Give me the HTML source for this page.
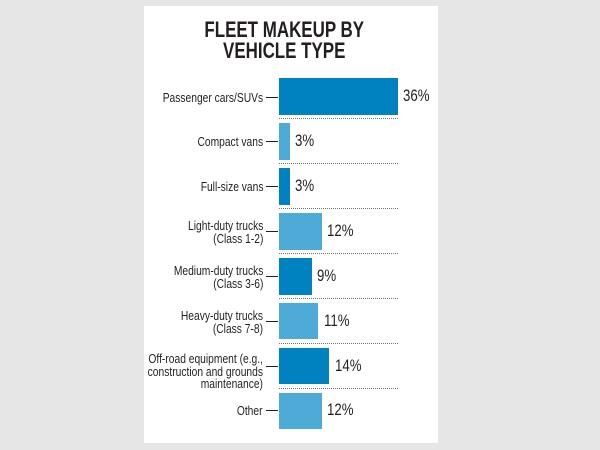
<!DOCTYPE html>
<html><head><style>
body{margin:0;width:600px;height:450px;background:#e6e6e6;position:relative;overflow:hidden;font-family:"Liberation Sans",sans-serif}
#p{position:absolute;left:144px;top:6px;width:294px;height:437px;background:#fff}
.t{position:absolute;left:144px;width:280px;text-align:center;font-weight:bold;font-size:22px;line-height:22px;color:#231f20;transform:scaleX(0.77);transform-origin:141px 0}
.b{position:absolute;left:279px}
.l{position:absolute;right:337px;text-align:right;font-size:13px;line-height:13px;color:#231f20;transform:scaleX(0.79);transform-origin:right 0;white-space:nowrap}
.k{position:absolute;left:266px;width:12px;height:1px;background:#231f20}
.v{position:absolute;font-size:17px;color:#231f20;transform:scaleX(0.78);transform-origin:0 0}
.s{position:absolute;left:279px;width:119px;border-top:1px dotted #777}
</style></head><body>
<div id="p"></div>
<div class="t" style="top:19px">FLEET MAKEUP BY</div>
<div class="t" style="top:40px">VEHICLE TYPE</div>

<div class="b" style="top:78px;height:37px;width:119px;background:#0081c0"></div>
<div class="k" style="top:97px"></div><div class="l" style="top:91px">Passenger cars/SUVs</div><div class="v" style="left:403px;top:86px">36%</div>
<div class="s" style="top:118px"></div>

<div class="b" style="top:123px;height:37px;width:11px;background:#4eaad6"></div>
<div class="k" style="top:141px"></div><div class="l" style="top:135px">Compact vans</div><div class="v" style="left:295px;top:131px">3%</div>
<div class="s" style="top:163px"></div>

<div class="b" style="top:168px;height:37px;width:11px;background:#0081c0"></div>
<div class="k" style="top:186px"></div><div class="l" style="top:180px">Full-size vans</div><div class="v" style="left:295px;top:176px">3%</div>
<div class="s" style="top:208px"></div>

<div class="b" style="top:213px;height:37px;width:43px;background:#4eaad6"></div>
<div class="k" style="top:231px"></div><div class="l" style="top:219px">Light-duty trucks<br>(Class 1-2)</div><div class="v" style="left:327px;top:221px">12%</div>
<div class="s" style="top:253px"></div>

<div class="b" style="top:258px;height:37px;width:33px;background:#0081c0"></div>
<div class="k" style="top:276px"></div><div class="l" style="top:264px">Medium-duty trucks<br>(Class 3-6)</div><div class="v" style="left:317px;top:266px">9%</div>
<div class="s" style="top:298px"></div>

<div class="b" style="top:303px;height:36px;width:39px;background:#4eaad6"></div>
<div class="k" style="top:321px"></div><div class="l" style="top:309px">Heavy-duty trucks<br>(Class 7-8)</div><div class="v" style="left:324px;top:311px">11%</div>
<div class="s" style="top:343px"></div>

<div class="b" style="top:348px;height:36px;width:50px;background:#0081c0"></div>
<div class="k" style="top:366px"></div><div class="l" style="top:354px;line-height:12.5px;top:353px">Off-road equipment (e.g.,<br>construction and grounds<br>maintenance)</div><div class="v" style="left:335px;top:356px">14%</div>
<div class="s" style="top:388px"></div>

<div class="b" style="top:393px;height:36px;width:43px;background:#4eaad6"></div>
<div class="k" style="top:410px"></div><div class="l" style="top:404px">Other</div><div class="v" style="left:327px;top:400px">12%</div>
</body></html>
